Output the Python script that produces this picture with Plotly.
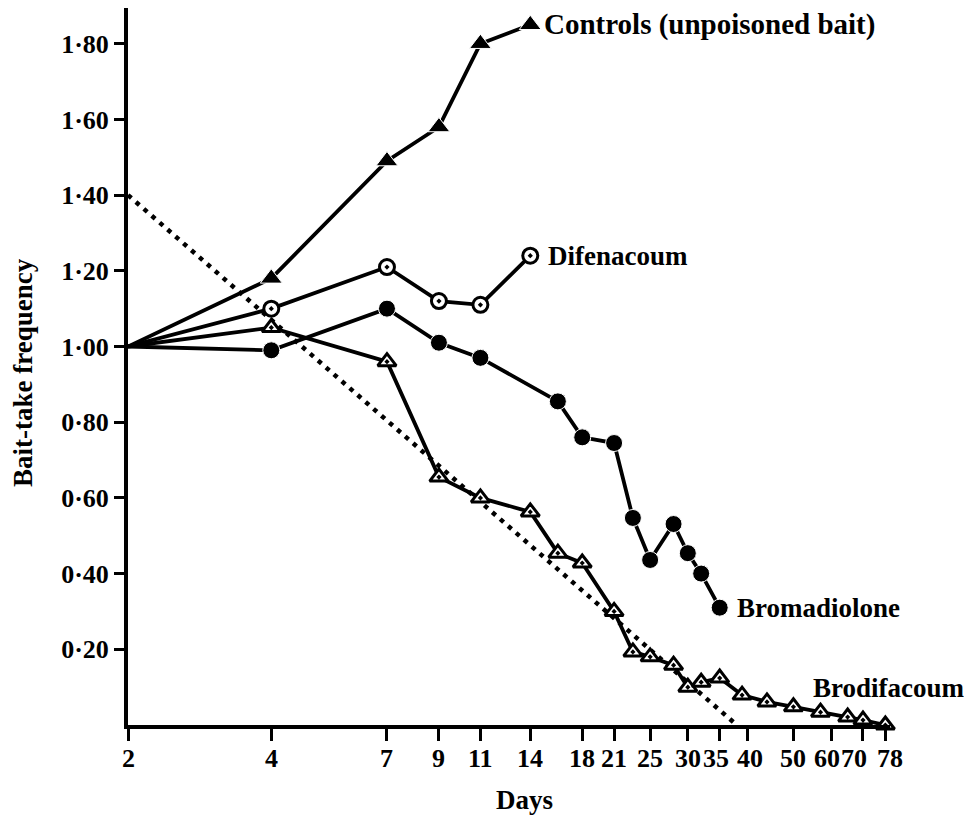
import numpy as np
import plotly.graph_objects as go

# ---- data ----
controls_days = [2, 4, 7, 9, 11, 14]
controls_vals = [1.00, 1.18, 1.49, 1.58, 1.80, 1.85]

difen_days = [2, 4, 7, 9, 11, 14]
difen_vals = [1.00, 1.10, 1.21, 1.12, 1.11, 1.24]

bromad_days = [2, 4, 7, 9, 11, 16, 18, 21, 23, 25, 28, 30, 32, 35]
bromad_vals = [1.00, 0.99, 1.10, 1.01, 0.97, 0.855, 0.76, 0.745, 0.547, 0.436, 0.531, 0.454, 0.40, 0.31]

brodif_days = [2, 4, 7, 9, 11, 14, 16, 18, 21, 23, 25, 28, 30, 32, 35, 39, 44, 50, 57, 65, 70, 78]
brodif_vals = [1.00, 1.05, 0.96, 0.655, 0.60, 0.563, 0.454, 0.428, 0.30, 0.193, 0.18, 0.158,
               0.10, 0.113, 0.124, 0.079, 0.061, 0.048, 0.034, 0.021, 0.013, 0.0]

ref_days = [2, 38]
ref_vals = [1.40, 0.0]

x_tick_vals = [2, 4, 7, 9, 11, 14, 18, 21, 25, 30, 35, 40, 50, 60, 70, 78]
x_tick_text = [str(v) for v in x_tick_vals]
y_tick_vals = [0.2, 0.4, 0.6, 0.8, 1.0, 1.2, 1.4, 1.6, 1.8]
y_tick_text = ["0·20", "0·40", "0·60", "0·80", "1·00", "1·20", "1·40", "1·60", "1·80"]

FONT = "Liberation Serif"
BLACK = "#000000"

# figure placed inside the page body (8px default body margin)
W, H = 964, 807
PL, PR = 120, 882          # plot left/right in figure px
PT, PB = 0, 717            # plot top/bottom in figure px
PX_PER_DECADE = 476
PX_PER_UNIT = 378.5

# crowded x tick labels are nudged sideways, as in the printed figure
x_label_nudge = {35: -4, 40: 3, 60: -4, 70: -9, 78: 5}

fig = go.Figure()

def sizes(n, s):
    return [0] + [s] * (n - 1)

fig.add_trace(go.Scatter(
    x=ref_days, y=ref_vals, mode="lines",
    line=dict(color=BLACK, width=4.5, dash="4.5px,6px"),
    hoverinfo="skip", cliponaxis=False))

fig.add_trace(go.Scatter(
    x=controls_days, y=controls_vals, mode="lines+markers",
    line=dict(color=BLACK, width=3.8),
    marker=dict(symbol="triangle-up", size=sizes(len(controls_days), 19), color=BLACK, opacity=1),
    cliponaxis=False))

fig.add_trace(go.Scatter(
    x=difen_days, y=difen_vals, mode="lines+markers",
    line=dict(color=BLACK, width=3.8),
    marker=dict(symbol="circle-dot", size=sizes(len(difen_days), 15), color="white", opacity=1,
                line=dict(color=BLACK, width=3)),
    cliponaxis=False))

fig.add_trace(go.Scatter(
    x=bromad_days, y=bromad_vals, mode="lines+markers",
    line=dict(color=BLACK, width=3.8),
    marker=dict(symbol="circle", size=sizes(len(bromad_days), 17), color=BLACK, opacity=1),
    cliponaxis=False))

fig.add_trace(go.Scatter(
    x=brodif_days, y=brodif_vals, mode="lines+markers",
    line=dict(color=BLACK, width=3.8),
    marker=dict(symbol="triangle-up-dot", size=sizes(len(brodif_days), 16), color="white", opacity=1,
                line=dict(color=BLACK, width=3)),
    cliponaxis=False))

ann_font = dict(family=FONT, size=27, color=BLACK, weight="bold")
tick_font = dict(family=FONT, size=26, color=BLACK, weight="bold")

annotations = [
    dict(x=np.log10(controls_days[-1]), y=controls_vals[-1], text="Controls (unpoisoned bait)",
         xanchor="left", yanchor="middle", xshift=12, showarrow=False,
         font=dict(ann_font, size=29)),
    dict(x=np.log10(difen_days[-1]), y=difen_vals[-1], text="Difenacoum",
         xanchor="left", yanchor="middle", xshift=16, showarrow=False, font=ann_font),
    dict(x=np.log10(bromad_days[-1]), y=bromad_vals[-1], text="Bromadiolone",
         xanchor="left", yanchor="middle", xshift=15, showarrow=False, font=ann_font),
    dict(x=np.log10(54.5), y=0.098, text="Brodifacoum",
         xanchor="left", yanchor="middle", showarrow=False, font=ann_font),
    dict(xref="paper", yref="paper", x=(15 - PL) / (PR - PL), y=(PB - 365) / (PB - PT),
         text="Bait-take frequency", textangle=-90, xanchor="center", yanchor="middle",
         showarrow=False, font=ann_font),
    dict(xref="paper", yref="paper", x=(516 - PL) / (PR - PL), y=(PB - 792) / (PB - PT),
         text="Days", xanchor="center", yanchor="middle",
         showarrow=False, font=ann_font),
]

for v, t in zip(x_tick_vals, x_tick_text):
    annotations.append(dict(
        x=np.log10(v), xref="x", y=0, yref="paper", text=t,
        xanchor="center", yanchor="middle", yshift=-33, xshift=x_label_nudge.get(v, 0),
        showarrow=False, font=tick_font))

fig.update_layout(
    width=W, height=H,
    margin=dict(l=PL, r=W - PR, t=PT, b=H - PB, pad=0, autoexpand=False),
    paper_bgcolor="white", plot_bgcolor="white",
    showlegend=False,
    font=dict(family=FONT, size=26, color=BLACK, weight="bold"),
    annotations=annotations,
    xaxis=dict(
        type="log", range=[np.log10(2), np.log10(2) + (PR - PL) / PX_PER_DECADE],
        tickmode="array", tickvals=x_tick_vals, ticktext=x_tick_text, showticklabels=False,
        showline=True, linecolor=BLACK, linewidth=4,
        ticks="outside", ticklen=12, tickwidth=3, tickcolor=BLACK,
        showgrid=False, zeroline=False,
    ),
    yaxis=dict(
        range=[0, (PB - PT) / PX_PER_UNIT],
        tickmode="array", tickvals=y_tick_vals, ticktext=y_tick_text,
        showline=True, linecolor=BLACK, linewidth=4,
        ticks="outside", ticklen=10, tickwidth=3, tickcolor=BLACK,
        showgrid=False, zeroline=False, tickfont=tick_font,
    ),
)

fig.write_html("out.html")
